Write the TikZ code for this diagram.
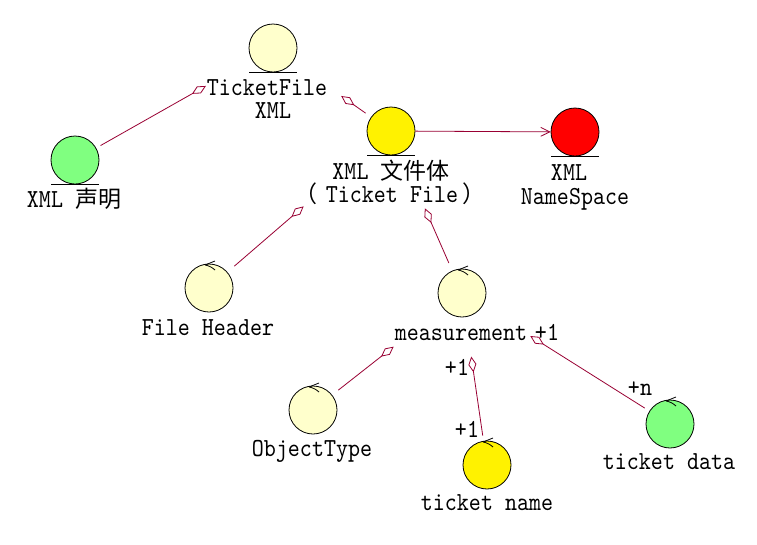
\documentclass[tikz,border=0pt]{standalone}
\usepackage{fontspec}
\usetikzlibrary{arrows.meta}
\newfontfamily\lat{lmmono10-regular.otf}[FakeStretch=0.88]
\newfontfamily\cjk{Noto Sans CJK SC}
\newcommand\zh[1]{{\fontsize{23}{23}\selectfont\cjk #1}}
\definecolor{pale}{RGB}{255,255,204}
\definecolor{lgreen}{RGB}{128,255,128}
\definecolor{relcol}{RGB}{153,0,51}
\begin{document}
\begin{tikzpicture}[x=1pt, y=-1pt,
  obj/.style={circle, draw=black, line width=0.8pt, minimum size=48pt, inner sep=0pt},
  lbl/.style={inner sep=0pt, anchor=base, text height=17pt, text depth=4pt, font=\fontsize{26}{26}\selectfont\lat},
  agg/.style={draw=relcol, line width=0.8pt, -{Diamond[open, length=16pt, width=8pt]}},
  nav/.style={draw=relcol, line width=0.8pt, -{Straight Barb[length=9pt, width=9pt]}},
  ctl/.style={draw=black, line width=0.8pt}]
\useasboundingbox (0,0) rectangle (757,544);
\fill[white] (0,0) rectangle (757,544);
% objects
\node[obj, fill=pale]   (tf)   at (273,48)  {};
\node[obj, fill=lgreen] (decl) at (75,160)  {};
\node[obj, fill=yellow] (body) at (391,131) {};
\node[obj, fill=red]    (ns)   at (575,132) {};
\node[obj, fill=pale]   (fh)   at (209,288) {};
\node[obj, fill=pale]   (meas) at (462,293) {};
\node[obj, fill=pale]   (ot)   at (313,410) {};
\node[obj, fill=yellow] (tn)   at (487,465) {};
\node[obj, fill=lgreen] (td)   at (670,424) {};
% entity underlines
\foreach \n in {tf,decl,body,ns}
  \draw[ctl] ([shift={(-24,24)}]\n.center) -- ++(48,0);
% control marks
\foreach \n in {fh,meas,ot,tn,td}
  \draw[ctl] ([shift={(-4,-23)}]\n.center) -- ++(10,-4)
             ([shift={(-4,-23)}]\n.center) to[bend left=15] ++(10,5);
% connectors
\draw[agg, shorten <=5pt,   shorten >=52.7pt] (decl) -- (tf);
\draw[agg, shorten <=6.6pt, shorten >=59pt]   (body) -- (tf);
\draw[agg, shorten <=9pt,   shorten >=91pt]   (fh)   -- (body);
\draw[agg, shorten <=8.4pt, shorten >=60pt]   (meas) -- (body);
\draw[agg, shorten <=7.8pt, shorten >=62.5pt] (ot)   -- (meas);
\draw[agg, shorten <=5.3pt, shorten >=39.8pt] (tn)   -- (meas);
\draw[agg, shorten <=5.5pt, shorten >=56.3pt] (td)   -- (meas);
\draw[nav] (body) -- (ns);
% labels
\node[lbl] (tfa)   at (267,95)  {TicketFile};
\node[lbl] (tfb)   at (273,118) {XML};
\node[lbl] (decll) at (74,207)  {XML \zh{声明}};
\node[lbl] (bodya) at (391,179) {XML \zh{文件体}};
\node[lbl] (bodyb) at (390,202) {\kern-6pt\zh{（}\kern8pt Ticket File\kern4pt\zh{）}\kern-6pt};
\node[lbl] (nsa)   at (569,180) {XML};
\node[lbl] (nsb)   at (575,204) {NameSpace};
\node[lbl] (fhl)   at (208,335) {File Header};
\node[lbl] (measl) at (461,340) {measurement};
\node[lbl] (m1)    at (547,340) {+1};
\node[lbl] (otl)   at (312,456) {ObjectType};
\node[lbl] (tnl)   at (487,510) {ticket name};
\node[lbl] (tdl)   at (669,469) {ticket data};
\node[lbl] (n1)    at (457,375) {+1};
\node[lbl] (n2)    at (467,437) {+1};
\node[lbl] (nn)    at (640,395) {+n};
\end{tikzpicture}
\end{document}
